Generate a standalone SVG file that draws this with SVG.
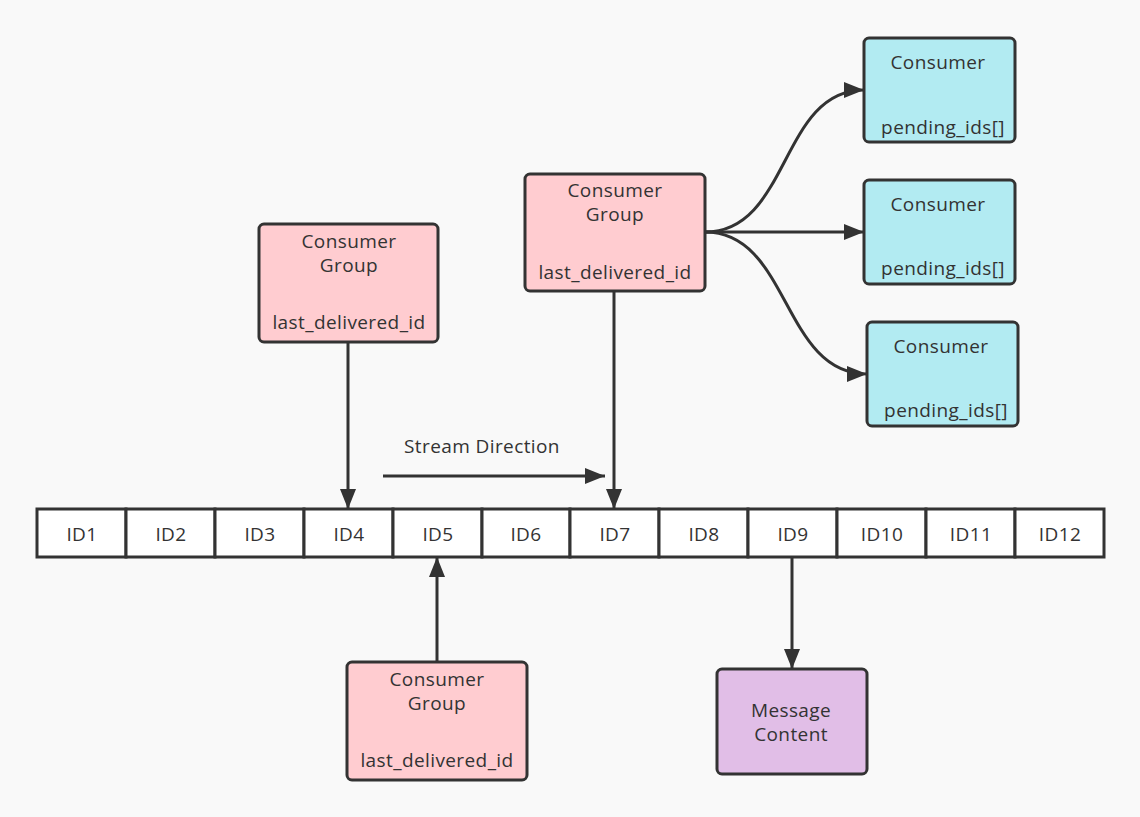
<svg xmlns="http://www.w3.org/2000/svg" width="1140" height="817" viewBox="0 0 1140 817">
<style>
text{font-family:"Open Sans","Noto Sans","Liberation Sans",sans-serif;font-size:19px;letter-spacing:0.4px;fill:#333;text-anchor:middle}
.box{stroke:#333;stroke-width:3}
.grp{fill:#ffccd0}
.con{fill:#b2ebf2}
.msg{fill:#e1bee7}
.cell{fill:#fff;stroke:#333;stroke-width:3}
.edge{fill:none;stroke:#333;stroke-width:3}
</style>
<defs>
<marker id="arr" markerUnits="userSpaceOnUse" markerWidth="22" markerHeight="18" refX="20" refY="8" orient="auto">
<path d="M0,0 L20,8 L0,16 Z" fill="#333"/>
</marker>
</defs>
<rect width="1140" height="817" fill="#f9f9f9"/>
<g id="stream">
<rect class="cell" x="37" y="509" width="89" height="48"/>
<rect class="cell" x="126" y="509" width="89" height="48"/>
<rect class="cell" x="215" y="509" width="89" height="48"/>
<rect class="cell" x="304" y="509" width="89" height="48"/>
<rect class="cell" x="393" y="509" width="89" height="48"/>
<rect class="cell" x="482" y="509" width="88" height="48"/>
<rect class="cell" x="570" y="509" width="89" height="48"/>
<rect class="cell" x="659" y="509" width="89" height="48"/>
<rect class="cell" x="748" y="509" width="89" height="48"/>
<rect class="cell" x="837" y="509" width="89" height="48"/>
<rect class="cell" x="926" y="509" width="89" height="48"/>
<rect class="cell" x="1015" y="509" width="89" height="48"/>
<text x="82" y="541">ID1</text>
<text x="171" y="541">ID2</text>
<text x="260" y="541">ID3</text>
<text x="349" y="541">ID4</text>
<text x="438" y="541">ID5</text>
<text x="526" y="541">ID6</text>
<text x="615" y="541">ID7</text>
<text x="704" y="541">ID8</text>
<text x="793" y="541">ID9</text>
<text x="882" y="541">ID10</text>
<text x="971" y="541">ID11</text>
<text x="1060" y="541">ID12</text>
</g>
<g id="group1">
<rect class="box grp" x="259" y="224" width="179" height="118" rx="5"/>
<text x="349" y="248">Consumer</text>
<text x="349" y="272">Group</text>
<text x="349" y="329">last_delivered_id</text>
</g>
<g id="group2">
<rect class="box grp" x="525" y="174" width="180" height="117" rx="5"/>
<text x="615" y="197">Consumer</text>
<text x="615" y="221">Group</text>
<text x="615" y="279">last_delivered_id</text>
</g>
<g id="group3">
<rect class="box grp" x="347" y="662" width="180" height="118" rx="5"/>
<text x="437" y="686">Consumer</text>
<text x="437" y="710">Group</text>
<text x="437" y="767">last_delivered_id</text>
</g>
<g id="message">
<rect class="box msg" x="717" y="669" width="150" height="105" rx="5"/>
<text x="791" y="717">Message</text>
<text x="791" y="741">Content</text>
</g>
<g id="consumer1">
<rect class="box con" x="864" y="38" width="151" height="104" rx="5"/>
<text x="938" y="69">Consumer</text>
<text x="943" y="134">pending_ids[]</text>
</g>
<g id="consumer2">
<rect class="box con" x="864" y="180" width="151" height="104" rx="5"/>
<text x="938" y="211">Consumer</text>
<text x="943" y="275">pending_ids[]</text>
</g>
<g id="consumer3">
<rect class="box con" x="867" y="322" width="151" height="104" rx="5"/>
<text x="941" y="353">Consumer</text>
<text x="946" y="417">pending_ids[]</text>
</g>
<text x="482" y="453">Stream Direction</text>
<g id="connectors">
<path class="edge" d="M348,342 L348,509" marker-end="url(#arr)"/>
<path class="edge" d="M614,291 L614,509" marker-end="url(#arr)"/>
<path class="edge" d="M437,662 L437,557" marker-end="url(#arr)"/>
<path class="edge" d="M792,557 L792,669" marker-end="url(#arr)"/>
<path class="edge" d="M383,476 L605,476" marker-end="url(#arr)"/>
<path class="edge" d="M705,232 C790,232 780,90 864,90" marker-end="url(#arr)"/>
<path class="edge" d="M705,232 L864,232" marker-end="url(#arr)"/>
<path class="edge" d="M705,232 C790,232 782,374 867,374" marker-end="url(#arr)"/>
</g>
</svg>
